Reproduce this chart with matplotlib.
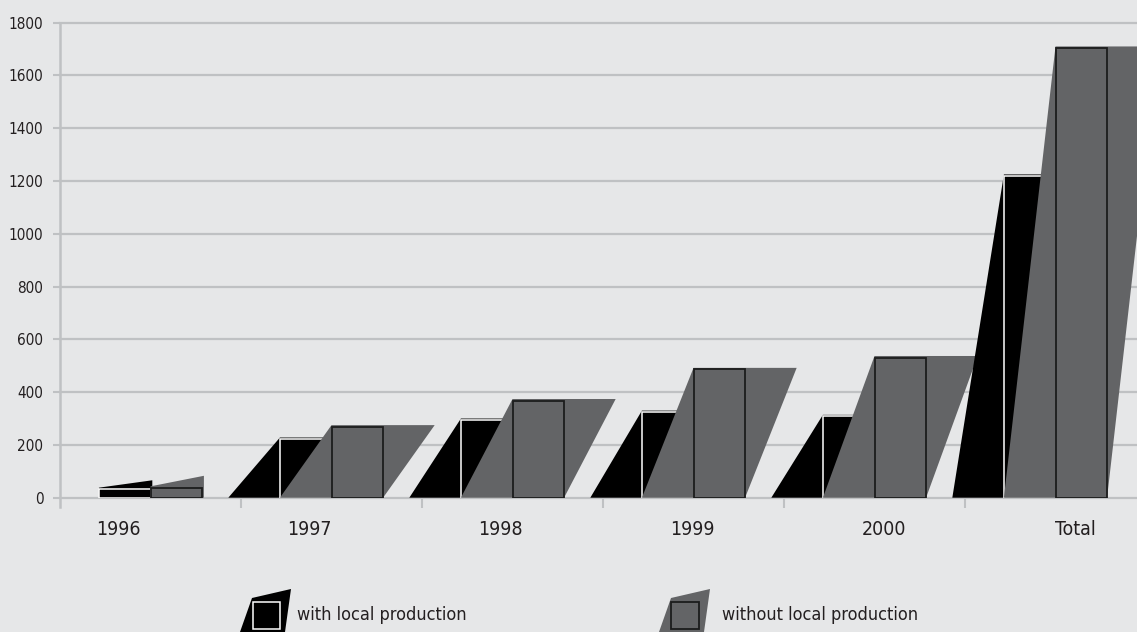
import numpy as np
import matplotlib
matplotlib.use("Agg")
import matplotlib.pyplot as plt
from matplotlib.patches import Polygon, Rectangle
from matplotlib import font_manager as fm

# ---------------- data ----------------
categories = ["1996", "1997", "1998", "1999", "2000", "Total"]
with_local = [38, 228, 300, 330, 314, 1225]
without_local = [43, 275, 374, 492, 537, 1710]
series_names = ["with local production", "without local production"]
y_ticks = list(range(0, 1801, 200))

# ---------------- style ----------------
BG = "#e6e7e8"
GRID = "#bfc1c3"
BLACK = "#000000"
GRAY = "#636466"
TEXT = "#231f20"
W_PX, H_PX, DPI = 1137, 632, 100
BAR_W = 0.285          # bar width in group units (group = 1)
RECT_INSET = 6         # front face sits slightly below the shadow top
WEDGE_RISE = (28, 40)  # first group uses a wedge-shaped shadow
shadow_kind = ["wedge"] + ["slant"] * (len(categories) - 1)
LABEL_START, LABEL_STEP = 0.32, 1.058


def pick_font():
    entries = fm.fontManager.ttflist
    names = {f.name for f in entries}
    if "Liberation Sans Narrow" in names:
        return ["Liberation Sans Narrow", "DejaVu Sans"], "normal"
    for f in entries:
        if f.name == "DejaVu Sans" and "condensed" in str(f.stretch):
            return ["DejaVu Sans"], "condensed"
    for n in ("Roboto Condensed", "Open Sans Condensed", "Noto Sans Condensed"):
        if n in names:
            return [n, "DejaVu Sans"], "normal"
    return ["Liberation Sans", "DejaVu Sans"], "normal"


FAMILY, STRETCH = pick_font()
plt.rcParams["font.family"] = FAMILY
plt.rcParams["font.stretch"] = STRETCH

fig = plt.figure(figsize=(W_PX / DPI, H_PX / DPI), dpi=DPI, facecolor=BG)


def fx(px):
    return px / W_PX


def fy(py):
    return 1 - py / H_PX


# axes placed in pixel layout (right edge runs past the figure, like the original)
ax_left, ax_right, ax_top, ax_bottom = 60, 1146, 22.7, 497.7
ax = fig.add_axes([fx(ax_left), fy(ax_bottom), (ax_right - ax_left) / W_PX,
                   (ax_bottom - ax_top) / H_PX])
ax.set_facecolor("none")
n = len(categories)
ax.set_xlim(0, n)
ax.set_ylim(0, 1800)
for s in ax.spines.values():
    s.set_visible(False)

# gridlines
for t in y_ticks:
    ax.axhline(t, color=GRID, lw=1.6, zorder=0.5, clip_on=False)
# y axis line extending below zero
ax.plot([0, 0], [-0.02, 1], transform=ax.transAxes, color=GRID, lw=1.8,
        clip_on=False, zorder=0.6)

# bars
for i in range(n):
    c = i + 0.5
    specs = [
        (c - BAR_W, c, with_local[i], BLACK, "white", 1.1, WEDGE_RISE[0], "b"),
        (c, c + BAR_W, without_local[i], GRAY, "#1c1c1c", 1.3, WEDGE_RISE[1], "g"),
    ]
    for L, R, v, fc, ec, lw, rise, kind in specs:
        if shadow_kind[i] == "wedge":
            pts = [(L, 0), (L, v), (R + 0.01, v + rise), (R + 0.01, 0)]
        elif kind == "b":
            pts = [(L - BAR_W, 0), (L, v), (R, v), (R - BAR_W, 0)]
        else:
            pts = [(L - BAR_W, 0), (L, v), (R + BAR_W, v), (R, 0)]
        ax.add_patch(Polygon(pts, closed=True, facecolor=fc, edgecolor="none",
                             zorder=2 + i))
        ax.add_patch(Rectangle((L, 0), R - L, v - RECT_INSET, facecolor=fc,
                               edgecolor=ec, lw=lw, zorder=2 + i))

# ticks
ax.set_yticks(y_ticks)
ax.set_yticklabels([str(t) for t in y_ticks], fontsize=11, color=TEXT)
ax.tick_params(axis="y", length=5, width=1.5, color=GRID, pad=7)
ax.set_xticks(np.arange(1, n), minor=True)
ax.set_xticks(LABEL_START + LABEL_STEP * np.arange(n))
ax.set_xticklabels(categories, fontsize=14, color=TEXT)
ax.tick_params(axis="x", which="major", length=0, pad=16)
ax.tick_params(axis="x", which="minor", length=7, width=1.5, color=GRID)

# legend (drawn by hand to reproduce the slanted swatches)
legend_specs = [
    (240, 297, BLACK, "white", 1.1, series_names[0]),
    (659, 722, GRAY, "#1c1c1c", 1.3, series_names[1]),
]
for x0, tx, fc, ec, lw, label in legend_specs:
    shadow = [(x0, 632), (x0 + 12, 598), (x0 + 51, 589), (x0 + 45, 632)]
    fig.add_artist(Polygon([(fx(px), fy(py)) for px, py in shadow], closed=True,
                           transform=fig.transFigure, facecolor=fc, edgecolor="none"))
    fig.add_artist(Rectangle((fx(x0 + 12.5), fy(629)), 27.5 / W_PX, 27 / H_PX,
                             transform=fig.transFigure, facecolor=fc,
                             edgecolor=ec, lw=lw))
    fig.text(fx(tx), fy(620), label, fontsize=13, color=TEXT,
             ha="left", va="baseline")

fig.savefig("out.png", dpi=DPI, facecolor=BG)
